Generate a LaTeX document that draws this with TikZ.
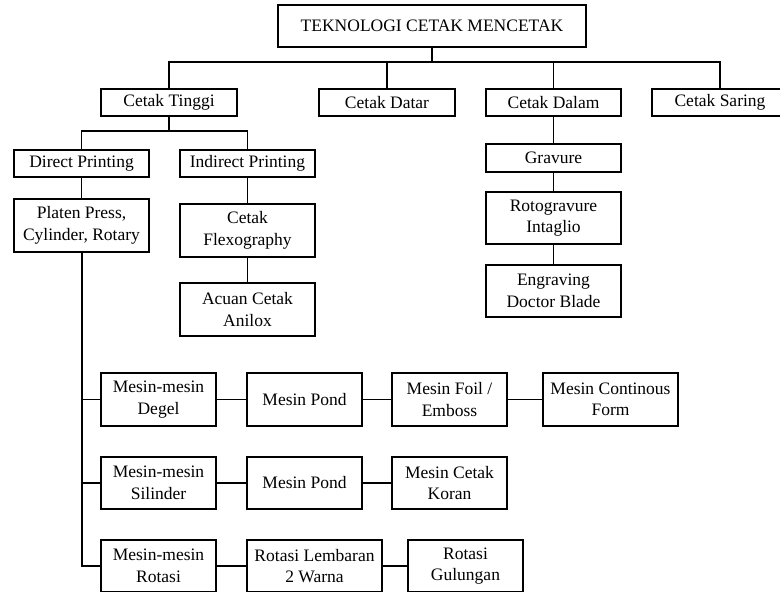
\documentclass[tikz,border=0pt]{standalone}
\usepackage{fontspec}
\setmainfont{Liberation Serif}
\begin{document}
\begin{tikzpicture}[x=1pt,y=-1pt,
  box/.style={draw,line width=1.1pt,inner sep=0pt,align=center,
    font=\fontsize{17.5}{21.5}\selectfont},
  lnk/.style={line width=1.1pt}]
\useasboundingbox (0,0) rectangle (780,592);
% top
\node[box,minimum width=308pt,minimum height=42pt] (top) at (432,26) {TEKNOLOGI CETAK MENCETAK};
% level 1
\node[box,minimum width=136pt,minimum height=27pt] (ct) at (169,102.5) {Cetak Tinggi};
\node[box,minimum width=136pt,minimum height=27pt] (cdatar) at (387,102.5) {Cetak Datar};
\node[box,minimum width=135pt,minimum height=27pt] (cdalam) at (553.5,102.5) {Cetak Dalam};
\node[box,minimum width=136pt,minimum height=27pt] (csaring) at (720,102.5) {Cetak Saring};
% cetak tinggi children
\node[box,minimum width=135pt,minimum height=27pt] (direct) at (81.5,163.5) {Direct Printing};
\node[box,minimum width=135pt,minimum height=27pt] (indirect) at (247.5,163.5) {Indirect Printing};
\node[box,minimum width=135pt,minimum height=53pt] (platen) at (81.5,225.5) {Platen Press,\\Cylinder, Rotary};
\node[box,minimum width=135pt,minimum height=53pt] (flexo) at (247.5,230.5) {Cetak\\Flexography};
\node[box,minimum width=135pt,minimum height=53pt] (acuan) at (247.5,309.5) {Acuan Cetak\\Anilox};
% cetak dalam children
\node[box,minimum width=135pt,minimum height=28pt] (gravure) at (553.5,158) {Gravure};
\node[box,minimum width=135pt,minimum height=52pt] (roto) at (553.5,218) {Rotogravure\\Intaglio};
\node[box,minimum width=135pt,minimum height=52pt] (engr) at (553.5,291) {Engraving\\Doctor Blade};
% machine rows
\node[box,minimum width=115pt,minimum height=53pt] (degel) at (158.5,399.5) {Mesin-mesin\\Degel};
\node[box,minimum width=115pt,minimum height=53pt] (pond1) at (304.5,399.5) {Mesin Pond};
\node[box,minimum width=115pt,minimum height=53pt] (foil) at (449.5,399.5) {Mesin Foil /\\Emboss};
\node[box,minimum width=135pt,minimum height=53pt] (cont) at (610.5,399.5) {Mesin Continous\\Form};
\node[box,minimum width=115pt,minimum height=52pt] (silinder) at (158.5,483) {Mesin-mesin\\Silinder};
\node[box,minimum width=115pt,minimum height=52pt] (pond2) at (304.5,483) {Mesin Pond};
\node[box,minimum width=115pt,minimum height=52pt] (koran) at (449.5,483) {Mesin Cetak\\Koran};
\node[box,minimum width=115pt,minimum height=52pt] (rotasi) at (158.5,566) {Mesin-mesin\\Rotasi};
\node[box,minimum width=135pt,minimum height=52pt] (lembaran) at (314.5,566) {Rotasi Lembaran\\2 Warna};
\node[box,minimum width=115pt,minimum height=52pt] (gulungan) at (465.5,566) {Rotasi\\Gulungan};
% connectors level 1
\coordinate (bus1) at (432,62);
\draw[lnk] (top.south) -- (bus1);
\draw[lnk] (ct.north) |- (bus1) -| (csaring.north);
\draw[lnk] (cdatar.north) -- (cdatar.north |- bus1);
\draw[lnk] (cdalam.north) -- (cdalam.north |- bus1);
% cetak tinggi
\coordinate (bus2) at (169,131);
\draw[lnk] (ct.south) -- (bus2);
\draw[lnk] (direct.north) |- (bus2) -| (indirect.north);
\draw[lnk] (direct.south) -- (platen.north);
\draw[lnk] (indirect.south) -- (flexo.north);
\draw[lnk] (flexo.south) -- (acuan.north);
% cetak dalam
\draw[lnk] (cdalam.south) -- (gravure.north);
\draw[lnk] (gravure.south) -- (roto.north);
\draw[lnk] (roto.south) -- (engr.north);
% machine spine
\coordinate (spine) at (82,566);
\draw[lnk] (platen.south -| spine) -- (spine) -- (rotasi.west);
\draw[lnk] (degel.west -| spine) -- (degel.west);
\draw[lnk] (silinder.west -| spine) -- (silinder.west);
\draw[lnk] (degel) -- (pond1);
\draw[lnk] (pond1) -- (foil);
\draw[lnk] (foil) -- (cont);
\draw[lnk] (silinder) -- (pond2);
\draw[lnk] (pond2) -- (koran);
\draw[lnk] (rotasi) -- (lembaran);
\draw[lnk] (lembaran) -- (gulungan);
\end{tikzpicture}
\end{document}
